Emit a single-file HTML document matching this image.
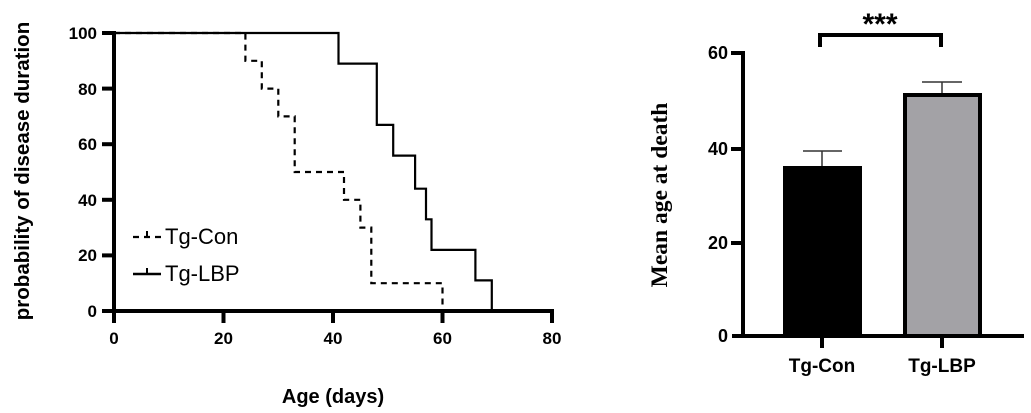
<!DOCTYPE html>
<html><head><meta charset="utf-8"><style>
html,body{margin:0;padding:0;background:#fff;}
svg{display:block;font-family:"Liberation Sans",Arial,sans-serif;}
</style></head><body>
<svg width="1031" height="413" viewBox="0 0 1031 413" xmlns="http://www.w3.org/2000/svg">
<g font-weight="bold" font-size="17" fill="#000">
<line x1="114" y1="31" x2="114" y2="313" stroke="#000" stroke-width="4"/>
<line x1="102" y1="311" x2="554" y2="311" stroke="#000" stroke-width="4"/>
<g stroke="#000" stroke-width="4">
<line x1="102" y1="33" x2="114" y2="33"/>
<line x1="102" y1="88.6" x2="114" y2="88.6"/>
<line x1="102" y1="144.2" x2="114" y2="144.2"/>
<line x1="102" y1="199.8" x2="114" y2="199.8"/>
<line x1="102" y1="255.4" x2="114" y2="255.4"/>
<line x1="114" y1="311" x2="114" y2="323"/>
<line x1="223.5" y1="311" x2="223.5" y2="323"/>
<line x1="333" y1="311" x2="333" y2="323"/>
<line x1="442.5" y1="311" x2="442.5" y2="323"/>
<line x1="552" y1="311" x2="552" y2="323"/>
</g>
<g text-anchor="end">
<text x="97" y="39">100</text><text x="97" y="95">80</text><text x="97" y="150">60</text>
<text x="97" y="206">40</text><text x="97" y="261">20</text><text x="97" y="317">0</text>
</g>
<g text-anchor="middle">
<text x="114" y="344">0</text><text x="223.5" y="344">20</text><text x="333" y="344">40</text>
<text x="442.5" y="344">60</text><text x="552" y="344">80</text>
<text x="333" y="403" font-size="20">Age (days)</text>
</g>
<text transform="translate(29,171) rotate(-90)" text-anchor="middle" font-size="20.5">probability of disease duration</text>
</g>
<path d="M114,33 H245.4 V60.8 H261.8 V88.6 H278.3 V116.4 H294.7 V172 H344 V199.8 H360.4 V227.6 H371.3 V283.2 H442.5 V311" fill="none" stroke="#000" stroke-width="2.2" stroke-dasharray="6,5"/>
<path d="M114,33 H338.5 V63.6 H376.8 V124.9 H393.2 V155.6 H415.1 V188.7 H426 V219.3 H431.5 V249.9 H475.4 V280.4 H491.8 V311" fill="none" stroke="#000" stroke-width="2.2"/>
<line x1="133" y1="237" x2="161" y2="237" stroke="#000" stroke-width="2.2" stroke-dasharray="6,5"/>
<line x1="147" y1="231" x2="147" y2="237" stroke="#000" stroke-width="2"/>
<text x="165" y="244" font-size="22">Tg-Con</text>
<line x1="133" y1="274" x2="161" y2="274" stroke="#000" stroke-width="2.5"/>
<line x1="147" y1="268" x2="147" y2="274" stroke="#000" stroke-width="2"/>
<text x="165" y="281" font-size="22">Tg-LBP</text>

<rect x="783" y="166" width="79" height="170" fill="#000"/>
<rect x="905" y="95" width="75" height="241" fill="#a3a2a6" stroke="#000" stroke-width="4"/>
<g stroke="#333" stroke-width="1.5">
<line x1="822" y1="151" x2="822" y2="166"/><line x1="803" y1="151" x2="842" y2="151"/>
<line x1="942" y1="82" x2="942" y2="93"/><line x1="922" y1="82" x2="962" y2="82"/>
</g>
<line x1="743" y1="51" x2="743" y2="338" stroke="#000" stroke-width="4"/>
<line x1="732" y1="336" x2="1024" y2="336" stroke="#000" stroke-width="4"/>
<g stroke="#000" stroke-width="4">
<line x1="731" y1="53" x2="743" y2="53"/><line x1="731" y1="149" x2="743" y2="149"/>
<line x1="731" y1="243" x2="743" y2="243"/>
<line x1="822" y1="336" x2="822" y2="348"/><line x1="942" y1="336" x2="942" y2="348"/>
</g>
<path d="M820,47 V35 H941 V47" fill="none" stroke="#000" stroke-width="4"/>
<g font-weight="bold" font-size="18" fill="#000">
<g text-anchor="end"><text x="728" y="59">60</text><text x="728" y="155">40</text><text x="728" y="249">20</text><text x="728" y="342">0</text></g>
<g text-anchor="middle"><text x="822" y="372" font-size="19">Tg-Con</text><text x="942" y="372" font-size="19">Tg-LBP</text>
<text x="880" y="34" font-size="30">***</text></g>
<text transform="translate(667,195) rotate(-90)" text-anchor="middle" font-family="Liberation Serif,serif" font-size="23.5">Mean age at death</text>
</g>
</svg>
</body></html>
